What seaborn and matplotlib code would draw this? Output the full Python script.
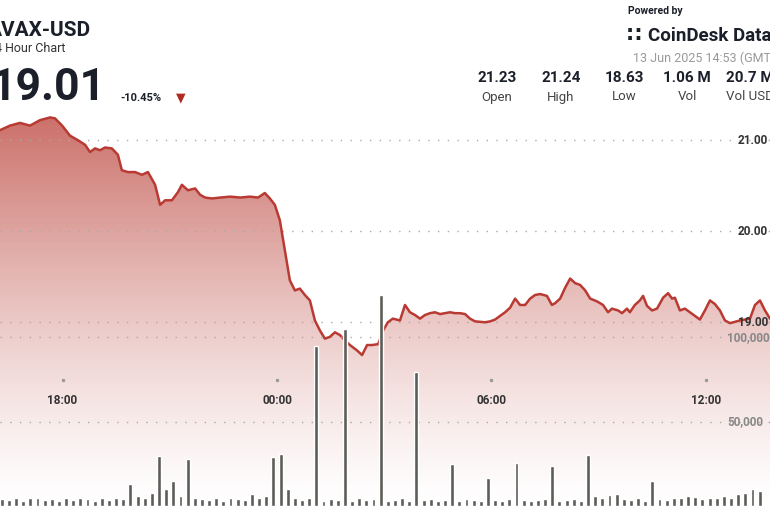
import numpy as np
import matplotlib
matplotlib.use("Agg")
import matplotlib.pyplot as plt
import seaborn as sns
from matplotlib.patches import Polygon

sns.set_theme(style="white")
plt.rcParams["font.family"] = ["Roboto", "DejaVu Sans"]

# price line: hours relative to 00:00 (13 Jun), price in USD
price_h = [-7.75, -7.47, -7.19, -6.91, -6.63, -6.35, -6.21, -6.01, -5.79, -5.57,
           -5.37, -5.23, -5.09, -4.95, -4.81, -4.62, -4.45, -4.34, -4.17, -3.97,
           -3.78, -3.61, -3.41, -3.27, -3.13, -2.94, -2.77, -2.66, -2.49, -2.29,
           -2.15, -2.01, -1.82, -1.59, -1.31, -1.03, -0.76, -0.53, -0.34, -0.20,
           -0.06, 0.08, 0.22, 0.36, 0.50, 0.64, 0.78, 0.92, 1.06, 1.20,
           1.34, 1.48, 1.62, 1.76, 1.90, 2.04, 2.24, 2.38, 2.52, 2.66,
           2.83, 2.97, 3.10, 3.24, 3.44, 3.58, 3.72, 3.86, 4.00, 4.14,
           4.28, 4.42, 4.56, 4.70, 4.84, 4.98, 5.12, 5.26, 5.40, 5.54,
           5.82, 5.96, 6.10, 6.24, 6.38, 6.52, 6.66, 6.80, 6.94, 7.08,
           7.22, 7.36, 7.55, 7.69, 7.78, 7.92, 8.06, 8.20, 8.34, 8.48,
           8.62, 8.76, 8.95, 9.12, 9.26, 9.37, 9.54, 9.65, 9.79, 9.87,
           10.01, 10.15, 10.24, 10.35, 10.49, 10.63, 10.80, 10.94, 11.05, 11.13,
           11.27, 11.41, 11.55, 11.69, 11.83, 11.97, 12.11, 12.25, 12.39, 12.53,
           12.67, 12.95, 13.23, 13.37, 13.51, 13.65, 13.79]
price = [21.11, 21.16, 21.19, 21.16, 21.22, 21.25, 21.24, 21.16, 21.05, 21.00,
         20.95, 20.87, 20.91, 20.89, 20.92, 20.91, 20.84, 20.67, 20.65, 20.65,
         20.62, 20.65, 20.51, 20.29, 20.34, 20.34, 20.43, 20.51, 20.45, 20.47,
         20.40, 20.37, 20.36, 20.37, 20.38, 20.37, 20.38, 20.37, 20.42, 20.36,
         20.29, 20.12, 19.79, 19.46, 19.35, 19.37, 19.30, 19.24, 19.02, 18.91,
         18.82, 18.84, 18.89, 18.86, 18.80, 18.75, 18.69, 18.64, 18.75, 18.75,
         18.76, 18.91, 19.00, 19.04, 19.02, 19.19, 19.11, 19.08, 19.04, 19.08,
         19.10, 19.11, 19.09, 19.10, 19.11, 19.10, 19.10, 19.09, 19.04, 19.01,
         19.00, 19.01, 19.03, 19.07, 19.11, 19.16, 19.26, 19.19, 19.19, 19.26,
         19.30, 19.31, 19.29, 19.19, 19.21, 19.26, 19.38, 19.48, 19.43, 19.41,
         19.35, 19.26, 19.23, 19.19, 19.11, 19.15, 19.13, 19.10, 19.15, 19.11,
         19.19, 19.24, 19.29, 19.18, 19.13, 19.15, 19.27, 19.32, 19.26, 19.27,
         19.13, 19.15, 19.11, 19.07, 19.03, 19.13, 19.24, 19.20, 19.13, 19.02,
         18.99, 19.02, 19.04, 19.19, 19.24, 19.13, 19.04]

# volume bars every 12 minutes
vol_start = -7.70
vol = [4000, 3500, 4500, 3000, 5000, 4500, 3500, 4000, 3000, 4500, 3500, 5000, 4000, 3000, 4500, 3500,
       5000, 4000, 12900, 6000, 4500, 8000, 29400, 10000, 14700, 6000, 27600, 5000, 4000, 3500, 4500,
       3000, 5000, 4000, 3500, 7000, 4500, 6000, 29000, 30600, 10000, 5000, 3500, 4500, 95000, 3000,
       4000, 3500, 105000, 3000, 4500, 3500, 4000, 125000, 3000, 3500, 4500, 3000, 79400, 3500, 4000,
       3000, 3500, 24700, 3000, 4000, 3500, 3000, 16500, 3500, 3000, 4000, 25300, 3500, 3000, 3500,
       4000, 23500, 3000, 3500, 4000, 3000, 30000, 6000, 5000, 6500, 7000, 4000, 3500, 4500, 3000,
       14700, 4000, 3500, 5000, 4500, 6000, 5500, 4000, 5000, 4500, 6000, 5000, 7000, 7500, 10000, 9000]

hour_ticks = [-6, 0, 6, 12]
hour_labels = ["18:00", "00:00", "06:00", "12:00"]
price_ticks = [21, 20, 19]
vol_ticks = [100000, 50000]

stat_vals = ["21.23", "21.24", "18.63", "1.06 M", "20.7 M"]
stat_names = ["Open", "High", "Low", "Vol", "Vol USD"]

fig = plt.figure(figsize=(7.7, 5.08), dpi=100)
fig.patch.set_facecolor("white")
x0, x1 = -277 / 35.75, (770 - 277) / 35.75
pb, pt = 16.96, 22.54

ax = fig.add_axes([0, 0, 1, 1])
axv = fig.add_axes([0, 0, 1, 1])
axv.patch.set_alpha(0)

# gradient fill under price line (alpha fades downwards)
rgba = np.zeros((256, 1, 4))
rgba[..., 0], rgba[..., 1], rgba[..., 2] = 0.76, 0.33, 0.30
rgba[:, 0, 3] = np.linspace(0, 1, 256) ** 1.3 * 0.85
img = ax.imshow(rgba, extent=[x0, x1, pb, 21.3], origin="lower", aspect="auto", zorder=0)
poly = Polygon(list(zip(price_h, price)) + [(price_h[-1], pb), (price_h[0], pb)],
               closed=True, transform=ax.transData)
img.set_clip_path(poly)

sns.lineplot(x=price_h, y=price, ax=ax, color="#b93a32", lw=1.8, zorder=3)
ax.set_xlim(x0, x1)
ax.set_ylim(pb, pt)
ax.axis("off")

for p in price_ticks:
    ax.axhline(p, color="#aaaaaa", lw=1, ls=(0, (1, 6)), zorder=1)
    ax.text(x1 - 0.9, p, f"{p:.2f}", fontsize=8.5, fontweight="bold", color="#333333",
            va="center", ha="left", zorder=5)

vol_x = vol_start + 0.2 * np.arange(len(vol))
axv.bar(vol_x, vol, width=0.11, color="#5b5d58", zorder=2)
axv.set_xlim(x0, x1)
axv.set_ylim(-1176, 300000)
axv.axis("off")
for v in vol_ticks:
    axv.axhline(v, color="#aaaaaa", lw=1, ls=(0, (1, 6)), zorder=1)
    axv.text(x1 - 1.2, v, f"{v:,}", fontsize=8.5, fontweight="bold", color="#888888",
             va="center", ha="left")

for h, lab in zip(hour_ticks, hour_labels):
    ax.plot(h, pt - 380 / 91, marker="o", ms=1.5, color="#999999")
    ax.text(h, pt - 400 / 91, lab, fontsize=8.5, fontweight="bold", color="#333333",
            ha="center", va="center")

# header
W, H = 770, 508
def ftext(px, py, s, **kw):
    fig.text(px / W, 1 - py / H, s, **kw)

ftext(-12, 30, "AVAX-USD", fontsize=15, fontweight="bold", color="#1b1f2a", va="center")
ftext(66, 48, "24 Hour Chart", fontsize=9, color="#333333", va="center", ha="right")
ftext(106, 88, "19.01", fontsize=32, fontweight="bold", color="#1b1f2a", va="center", ha="right")
ftext(120, 98, "-10.45%", fontsize=8, fontweight="bold", color="#1b1f2a", va="center")
ftext(181, 98, "\u25BC", fontsize=9, color="#b02a22", va="center", ha="center")
ftext(628, 11, "Powered by", fontsize=7.5, fontweight="bold", color="#1b1f2a", va="center")
ftext(627, 36, "\u2237", fontsize=15, fontweight="bold", color="#1b1f2a", va="center")
ftext(648, 36, "CoinDesk Data", fontsize=13.5, fontweight="bold", color="#1b1f2a", va="center")
ftext(633, 58, "13 Jun 2025 14:53 (GMT)", fontsize=9, color="#999999", va="center")
for cx, v, n in zip([497, 561, 624, 687, 750], stat_vals, stat_names):
    ftext(cx, 78, v, fontsize=11, fontweight="bold", color="#1b1f2a", va="center", ha="center")
    ftext(cx, 97, n, fontsize=9.5, color="#444444", va="center", ha="center")

fig.savefig("out.png", dpi=100, facecolor="white")
